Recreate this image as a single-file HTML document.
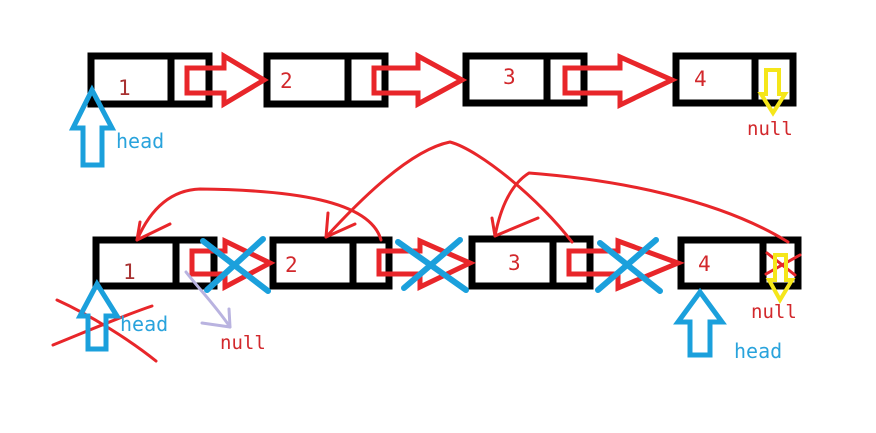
<!DOCTYPE html>
<html><head><meta charset="utf-8"><style>
html,body{margin:0;padding:0;background:#fff;}
svg{display:block;}
text{font-family:"DejaVu Sans Mono","Liberation Mono",monospace;}
</style></head><body>
<svg width="876" height="433" viewBox="0 0 876 433" xmlns="http://www.w3.org/2000/svg">
<g fill="none" stroke="#000" stroke-width="7">
  <rect x="91" y="56" width="118" height="48"/><line x1="171" y1="56" x2="171" y2="104"/>
  <rect x="267" y="56" width="118" height="48"/><line x1="348" y1="56" x2="348" y2="104"/>
  <rect x="466" y="56" width="118" height="47"/><line x1="547" y1="56" x2="547" y2="103"/>
  <rect x="676" y="56" width="117" height="47"/><line x1="755" y1="56" x2="755" y2="103"/>
  <rect x="96" y="240" width="118" height="46"/><line x1="176" y1="240" x2="176" y2="286"/>
  <rect x="273" y="240" width="116" height="46"/><line x1="353" y1="240" x2="353" y2="286"/>
  <rect x="472" y="239" width="118" height="47"/><line x1="553" y1="239" x2="553" y2="286"/>
  <rect x="681" y="240" width="117" height="46"/><line x1="763" y1="240" x2="763" y2="286"/>
</g>
<g fill="none" stroke="#e8262a" stroke-width="5" stroke-linejoin="miter">
  <path d="M187 68 H224 V56 L264 80 L224 104 V93 H187 Z"/>
  <path d="M374 68 H418 V56 L462 80 L418 104 V93 H374 Z"/>
  <path d="M565 68 H620 V57 L672 80 L620 105 V93 H565 Z"/>
  <path d="M192 251 H225 V241 L270 263 L225 287 V274 H192 Z"/>
  <path d="M379 251 H420 V241 L470 263 L420 287 V274 H379 Z"/>
  <path d="M569 251 H618 V241 L678 263 L618 288 V274 H569 Z"/>
</g>
<g stroke="#1ba0dc" stroke-width="6" stroke-linecap="round">
  <line x1="203" y1="241" x2="268" y2="291"/><line x1="263" y1="239" x2="207" y2="290"/>
  <line x1="398" y1="242" x2="466" y2="290"/><line x1="460" y1="240" x2="404" y2="288"/>
  <line x1="600" y1="243" x2="660" y2="291"/><line x1="656" y1="240" x2="598" y2="290"/>
</g>
<g fill="none" stroke="#e8262a" stroke-width="3" stroke-linecap="round" stroke-linejoin="round">
  <path d="M381 240 C370 200 290 190 200 189 C170 190 150 210 137 240"/>
  <path d="M137 240 L140 222 M137 240 L170 224"/>
  <path d="M572 242 C540 200 480 150 450 142 C410 150 360 200 326 237"/>
  <path d="M326 237 L328 213 M326 237 L355 224"/>
  <path d="M788 242 C720 200 620 180 529 173 C510 185 500 210 495 236"/>
  <path d="M495 236 L492 218 M495 236 L538 218"/>
  <path d="M57 300 C90 315 130 340 156 361"/>
  <path d="M53 345 C90 330 125 315 152 306"/>
  <path d="M767 253 L795 275 M766 274 L800 255"/>
</g>
<g fill="none" stroke="#1ba0dc" stroke-width="5" stroke-linejoin="miter">
  <path d="M92 90 L112 128 H102 V165 H83 V128 H73 Z"/>
  <path d="M97 284 L117 316 H106 V349 H88 V316 H80 Z"/>
  <path d="M700 292 L722 322 H710 V355 H690 V322 H678 Z"/>
</g>
<g fill="none" stroke="#f5e61a" stroke-width="4">
  <path d="M766 70 H779 V94 H785 L773 113 L761 94 H766 Z"/>
  <path d="M775 255 H786 V280 H792 L780 300 L769 280 H775 Z"/>
</g>
<g fill="none" stroke="#b9b3e0" stroke-width="3" stroke-linecap="round">
  <path d="M186 272 C200 290 215 305 230 327"/>
  <path d="M230 327 L229 309 M230 327 L202 323"/>
</g>
<g fill="#d2282c" font-size="21" style="font-family:'DejaVu Sans',sans-serif">
  <text x="118" y="95" fill="#a83232">1</text>
  <text x="280" y="88">2</text>
  <text x="503" y="84">3</text>
  <text x="694" y="86">4</text>
  <text x="123" y="279" fill="#a83232">1</text>
  <text x="285" y="272">2</text>
  <text x="508" y="270">3</text>
  <text x="698" y="271">4</text>
</g>
<g fill="#d2282c" font-size="19">
  <text x="747" y="135">null</text>
  <text x="751" y="318">null</text>
  <text x="220" y="349">null</text>
</g>
<g fill="#29a3dc" font-size="20" style="font-family:'DejaVu Sans',sans-serif">
  <text x="116" y="148">head</text>
  <text x="120" y="331">head</text>
  <text x="734" y="358">head</text>
</g>
</svg>
</body></html>
